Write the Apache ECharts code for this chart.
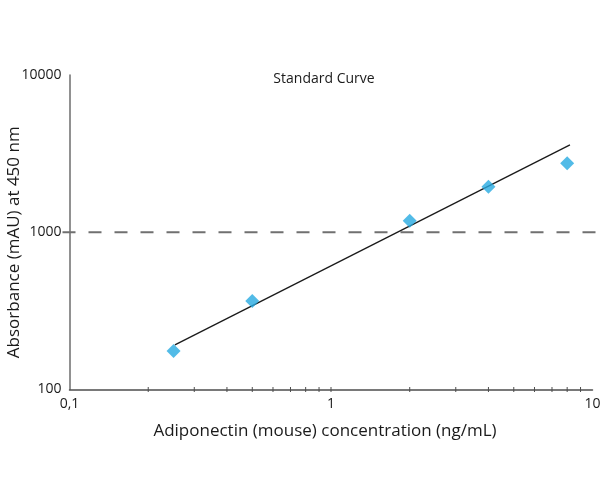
<!DOCTYPE html>
<html>
<head>
<meta charset="utf-8">
<script src="https://cdn.jsdelivr.net/npm/echarts@6/dist/echarts.min.js"></script>
<style>
html,body{margin:0;padding:0;background:#fff;}
#chart{width:600px;height:500px;}
</style>
</head>
<body>
<div id="chart"></div>
<script>
// Data
var concentrations = [0.25, 0.5, 2, 4, 8];
var absorbances = [176, 366, 1184, 1949, 2745];
var fitX = [0.253, 8.2];
var fitY = [192, 3591];
var cutoff = [1000];
var xTickLabels = [0.1, 1, 10];
var yTickLabels = [100, 1000, 10000];
var xMinorTicks = [0.2, 0.3, 0.4, 0.5, 0.6, 0.7, 0.8, 0.9, 1, 2, 3, 4, 5, 6, 7, 8, 9];

var FONT = '"Open Sans", sans-serif';
var chart = echarts.init(document.getElementById('chart'), null, {renderer: 'canvas'});

chart.setOption({
  animation: false,
  backgroundColor: '#ffffff',
  title: {
    text: 'Standard Curve',
    left: 319, top: 67,
    textAlign: 'center',
    textStyle: {fontFamily: FONT, fontSize: 14, fontWeight: 'normal', color: '#1a1a1a'}
  },
  grid: {left: 69.5, right: 7.5, top: 75, bottom: 110.5, containLabel: false, outerBoundsMode: 'none'},
  xAxis: {
    type: 'log', logBase: 10, min: 0.1, max: 10,
    name: 'Adiponectin (mouse) concentration (ng/mL)',
    nameLocation: 'middle', nameGap: 33, nameMoveOverlap: false,
    nameTextStyle: {fontFamily: FONT, fontSize: 17, color: '#1a1a1a', padding: [0, 12, 0, 0]},
    axisLine: {show: true, lineStyle: {color: '#4d4d4d', width: 1.5}},
    axisTick: {show: false},
    splitLine: {show: false},
    axisLabel: {
      fontFamily: FONT, fontSize: 14, color: '#1a1a1a', margin: 8,
      formatter: function (v) { return String(v).replace('.', ','); }
    }
  },
  yAxis: {
    type: 'log', logBase: 10, min: 100, max: 10000,
    name: 'Absorbance (mAU) at 450 nm',
    nameLocation: 'middle', nameGap: 47, nameMoveOverlap: false,
    nameTextStyle: {fontFamily: FONT, fontSize: 17, color: '#1a1a1a', padding: [0, 20, 0, 0]},
    axisLine: {show: true, lineStyle: {color: '#6d6d6d', width: 1.5}},
    axisTick: {show: false},
    splitLine: {show: false},
    axisLabel: {
      fontFamily: FONT, fontSize: 14, color: '#1a1a1a', margin: 8,
      formatter: function (v) { return String(v); }
    }
  },
  series: [
    {
      type: 'custom',
      name: 'cutoff',
      clip: false,
      silent: true,
      data: cutoff.map(function (v) { return [v]; }),
      encode: {y: 0},
      renderItem: function (params, api) {
        var y = api.value(0);
        var a = api.coord([xTickLabels[0], y]);
        var b = api.coord([xTickLabels[xTickLabels.length - 1], y]);
        return {
          type: 'line',
          shape: {x1: a[0] - 7, y1: a[1], x2: b[0] + 6, y2: b[1]},
          style: {stroke: '#707070', lineWidth: 2, lineDash: [13, 13]}
        };
      },
      z: 1
    },
    {
      type: 'custom',
      name: 'minorTicks',
      clip: false,
      silent: true,
      data: xMinorTicks.map(function (v) { return [v]; }),
      encode: {x: 0},
      renderItem: function (params, api) {
        var p = api.coord([api.value(0), yTickLabels[0]]);
        return {
          type: 'line',
          shape: {x1: p[0], y1: p[1] - 2.5, x2: p[0], y2: p[1] + 2.5},
          style: {stroke: '#4d4d4d', lineWidth: 1}
        };
      },
      z: 3
    },
    {
      type: 'line',
      name: 'fit',
      data: fitX.map(function (x, i) { return [x, fitY[i]]; }),
      showSymbol: false,
      symbol: 'none',
      lineStyle: {color: '#1a1a1a', width: 1.3},
      z: 2
    },
    {
      type: 'scatter',
      name: 'standards',
      data: concentrations.map(function (x, i) { return [x, absorbances[i]]; }),
      symbol: 'diamond',
      symbolSize: [14, 14],
      itemStyle: {color: '#27aae1'},
      z: 4
    }
  ]
});
</script>
</body>
</html>
